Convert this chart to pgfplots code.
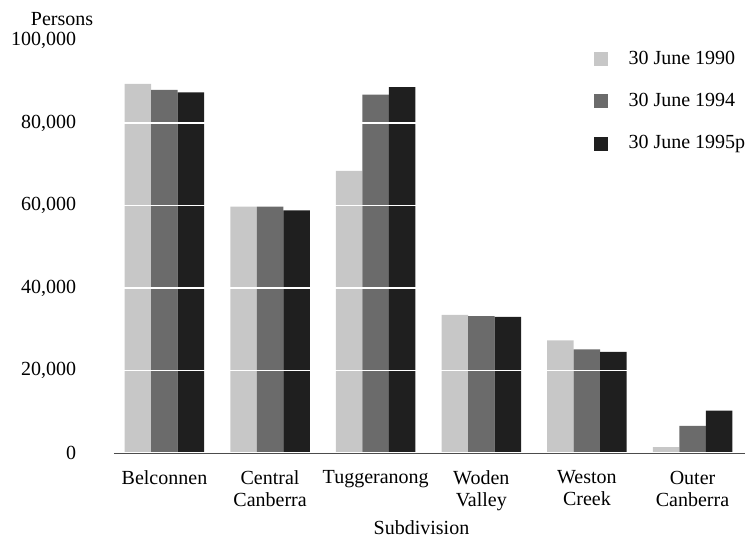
\documentclass[border=0pt]{standalone}
\usepackage{fontspec}
\setmainfont{Liberation Serif}
\usepackage{pgfplots}
\pgfplotsset{compat=1.18}
\definecolor{cA}{gray}{0.78}
\definecolor{cB}{gray}{0.42}
\definecolor{cC}{gray}{0.12}
\newcommand{\ff}{\fontsize{20bp}{22bp}\selectfont}
\begin{document}
\ff
\begin{tikzpicture}
\begin{axis}[
  scale only axis, width=631bp, height=412.5bp,
  xmin=-0.478, xmax=5.497, ymin=0, ymax=100000,
  ybar=0pt, bar width=26.5bp,
  separate axis lines,
  axis x line*=bottom, axis y line*=left,
  x axis line style={draw=black!70, line width=0.8bp},
  y axis line style={draw=none},
  axis on top,
  clip=false,
  xtick={0,1,2,3,4,5},
  xticklabels={Belconnen, Central\\Canberra, Tuggeranong, Woden\\Valley, Weston\\Creek, Outer\\Canberra},
  xticklabel style={align=center, anchor=north, yshift=-11bp, font=\ff},
  ytick={0,20000,40000,60000,80000,100000},
  yticklabels={0,{20,000},{40,000},{60,000},{80,000},{100,000}},
  yticklabel style={anchor=east, xshift=-31bp, font=\ff},
  scaled y ticks=false,
  major tick length=0pt,
  ymajorgrids, grid style={white, line width=1.5bp},
  xlabel={Subdivision},
  xlabel style={font=\ff, at={(axis description cs:0.5,0)}, anchor=north, yshift=-61bp, xshift=-8bp},
  legend cell align=left,
  legend image code/.code={\fill[#1,draw=none] (0bp,-7bp) rectangle (14bp,7bp);},
  legend style={draw=none, fill=none, anchor=north west, at={(axis description cs:0.755,0.985)}, row sep=22bp, font=\ff, /tikz/every odd column/.append style={column sep=19bp}},
]
\addplot[fill=cA, draw=none] coordinates {(0,89500) (1,59700) (2,68400) (3,33500) (4,27300) (5,1400)};
\addplot[fill=cB, draw=none] coordinates {(0,88000) (1,59700) (2,86900) (3,33200) (4,25100) (5,6600)};
\addplot[fill=cC, draw=none] coordinates {(0,87400) (1,58800) (2,88700) (3,33000) (4,24500) (5,10300)};
\legend{30 June 1990, 30 June 1994, 30 June 1995p}
\node[anchor=center] at (axis description cs:-0.0824,1.052) {Persons};
\end{axis}
\pgfresetboundingbox
\path (current axis.south west) ++(-114bp,-88bp) rectangle ++(750bp,541bp);
\end{tikzpicture}
\end{document}
